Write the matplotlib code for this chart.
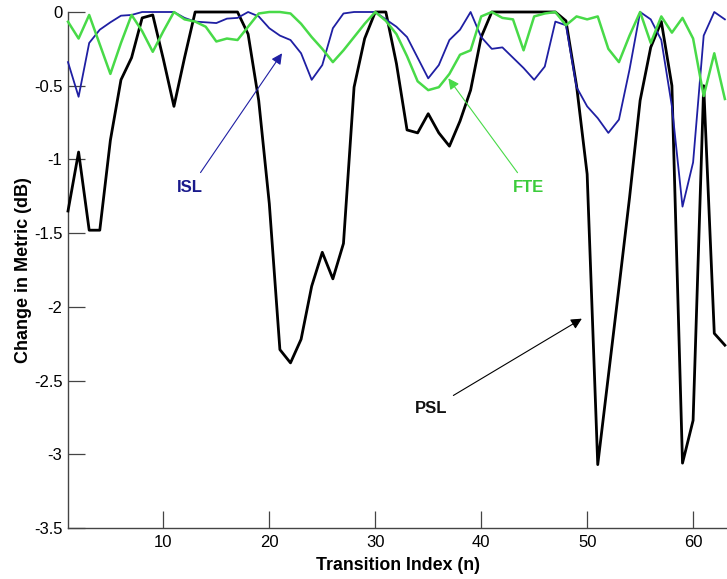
import matplotlib
matplotlib.use("Agg")
import matplotlib.pyplot as plt

plt.rcParams['font.family'] = ['Liberation Sans', 'DejaVu Sans']
plt.rcParams['axes.unicode_minus'] = False

n = list(range(1, 64))

psl = [-1.35, -0.95, -1.48, -1.48, -0.87, -0.46, -0.31, -0.04, -0.02, -0.32,
       -0.64, -0.31, 0.0, 0.0, 0.0, 0.0, 0.0, -0.15, -0.6, -1.3,
       -2.29, -2.38, -2.22, -1.86, -1.63, -1.81, -1.57, -0.51, -0.18, 0.0,
       0.0, -0.35, -0.80, -0.82, -0.69, -0.82, -0.91, -0.74, -0.53, -0.17,
       0.0, 0.0, 0.0, 0.0, 0.0, 0.0, 0.0, -0.06, -0.5, -1.1,
       -3.07, -2.47, -1.87, -1.26, -0.6, -0.24, -0.065, -0.5, -3.06, -2.77,
       -0.5, -2.18, -2.26]

isl = [-0.34, -0.575, -0.21, -0.12, -0.07, -0.025, -0.02, 0.0, 0.0, 0.0,
       0.0, -0.04, -0.065, -0.07, -0.075, -0.045, -0.04, 0.0, -0.03, -0.11,
       -0.16, -0.19, -0.28, -0.46, -0.36, -0.11, -0.01, 0.0, 0.0, 0.0,
       -0.05, -0.1, -0.17, -0.31, -0.45, -0.36, -0.19, -0.12, 0.0, -0.17,
       -0.25, -0.24, -0.31, -0.38, -0.46, -0.37, -0.065, -0.09, -0.51, -0.64,
       -0.72, -0.82, -0.73, -0.39, 0.0, -0.05, -0.19, -0.64, -1.32, -1.02,
       -0.16, 0.0, -0.05]

fte = [-0.066, -0.18, -0.02, -0.22, -0.42, -0.21, -0.02, -0.13, -0.27, -0.13,
       0.0, -0.05, -0.065, -0.1, -0.2, -0.18, -0.19, -0.1, -0.01, 0.0,
       0.0, -0.01, -0.08, -0.17, -0.25, -0.34, -0.26, -0.17, -0.08, 0.0,
       -0.06, -0.15, -0.3, -0.47, -0.53, -0.51, -0.42, -0.29, -0.26, -0.03,
       0.0, -0.04, -0.05, -0.26, -0.03, -0.01, 0.0, -0.09, -0.03, -0.05,
       -0.03, -0.25, -0.34, -0.16, 0.0, -0.21, -0.03, -0.14, -0.04, -0.18,
       -0.57, -0.28, -0.59]

xticks = [10, 20, 30, 40, 50, 60]
xticklabels = ['10', '20', '30', '40', '50', '60']
yticks = [0, -0.5, -1, -1.5, -2, -2.5, -3, -3.5]
yticklabels = ['0', '-0.5', '-1', '-1.5', '-2', '-2.5', '-3', '-3.5']

black = '#000000'
blue = '#1f1fa3'
green = '#48da48'

fig = plt.figure(figsize=(7.27, 5.79), dpi=100)
ax = fig.add_axes([68 / 727, 1 - 528 / 579, 659 / 727, 516 / 579])

ax.plot(n, psl, color=black, lw=2.0, clip_on=False, zorder=3)
ax.plot(n, isl, color=blue, lw=1.3, clip_on=False, zorder=4)
ax.plot(n, fte, color=green, lw=1.8, clip_on=False, zorder=5)

ax.set_xlim(1, 63.2)
ax.set_ylim(-3.5, 0)
ax.set_xticks(xticks)
ax.set_xticklabels(xticklabels)
ax.set_yticks(yticks)
ax.set_yticklabels(yticklabels)

for s in ['top', 'right']:
    ax.spines[s].set_visible(False)
for s in ['left', 'bottom']:
    ax.spines[s].set_color('#444444')
    ax.spines[s].set_linewidth(1.0)

ax.tick_params(direction='in', length=12.5, width=0.9, color='#444444',
               labelsize=12, pad=5)
ax.tick_params(axis='y', pad=4)

ax.set_xlabel('Transition Index (n)', fontsize=12.8, fontweight='bold', labelpad=5)
ax.set_ylabel('Change in Metric (dB)', fontsize=13, fontweight='bold', labelpad=1)

ax.annotate('ISL', xy=(21.2, -0.28), xytext=(12.55, -1.19), fontsize=12,
            fontweight='bold', color='#1a1a8c', ha='center', va='center',
            arrowprops=dict(arrowstyle='-|>', color=blue, lw=0.8,
                            mutation_scale=16, shrinkA=4, shrinkB=0))
ax.annotate('FTE', xy=(36.9, -0.45), xytext=(44.45, -1.19), fontsize=12,
            fontweight='bold', color='#3ccc3c', ha='center', va='center',
            arrowprops=dict(arrowstyle='-|>', color=green, lw=0.8,
                            mutation_scale=16, shrinkA=4, shrinkB=0))
ax.annotate('PSL', xy=(49.5, -2.08), xytext=(35.3, -2.69), fontsize=12,
            fontweight='bold', color='#111111', ha='center', va='center',
            arrowprops=dict(arrowstyle='-|>', color=black, lw=0.8,
                            mutation_scale=16, shrinkA=4, shrinkB=0))

fig.savefig('out.png', dpi=100)
